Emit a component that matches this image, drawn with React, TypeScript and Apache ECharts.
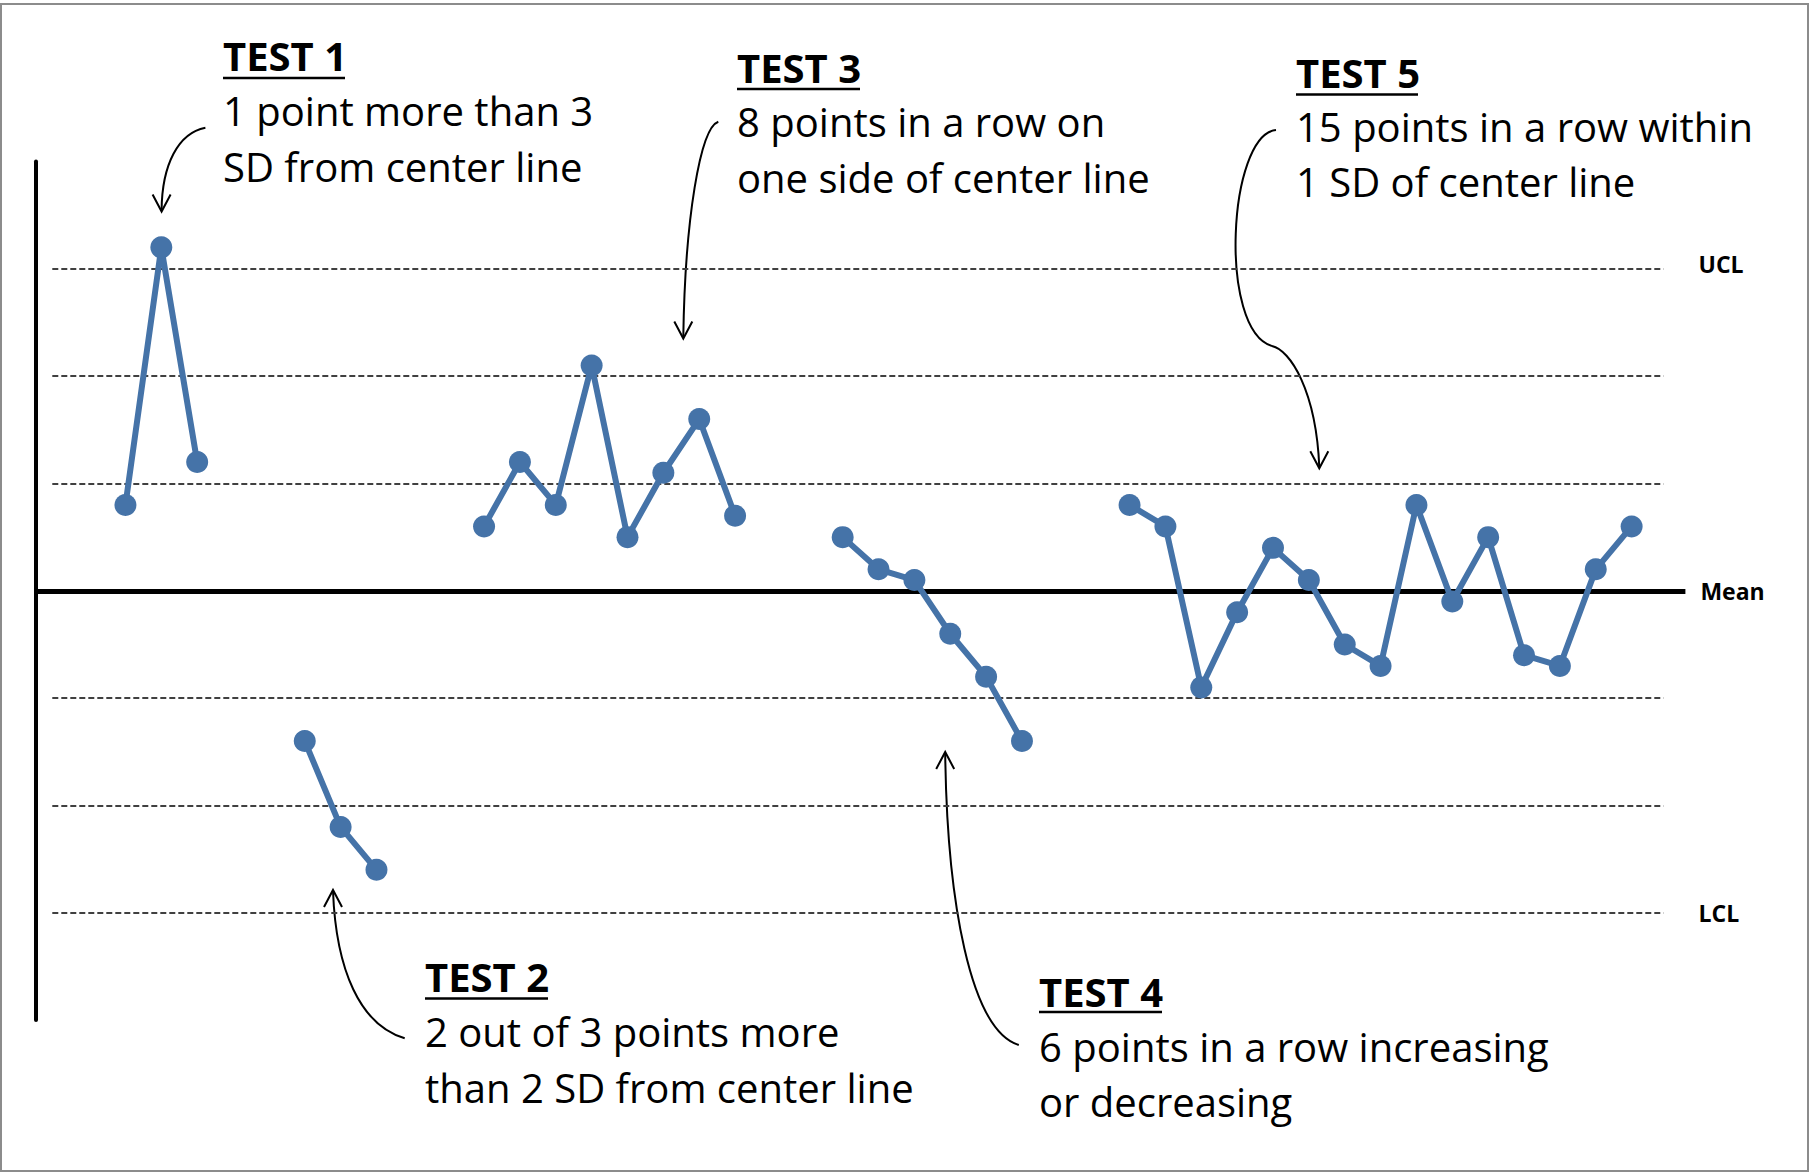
import React, { useEffect, useRef } from "react";
import * as echarts from "echarts";

// ---- data (values in SD units from the mean) ----
const values: (number | null)[] = [
  0.8, 3.2, 1.2, null, null,
  -1.4, -2.2, -2.6, null, null,
  0.6, 1.2, 0.8, 2.1, 0.5, 1.1, 1.6, 0.7, null, null,
  0.5, 0.2, 0.1, -0.4, -0.8, -1.4, null, null,
  0.8, 0.6, -0.9, -0.2, 0.4, 0.1, -0.5, -0.7, 0.8, -0.1, 0.5, -0.6, -0.7, 0.2, 0.6,
];
const sdLevels = [3, 2, 1, -1, -2, -3];
const sdLabels = ["UCL", "", "", "", "", "LCL"];
const meanLabel = "Mean";

const testTitles = ["TEST 1", "TEST 2", "TEST 3", "TEST 4", "TEST 5"];
const testLines1 = [
  "1 point more than 3",
  "2 out of 3 points more",
  "8 points in a row on",
  "6 points in a row increasing",
  "15 points in a row within",
];
const testLines2 = [
  "SD from center line",
  "than 2 SD from center line",
  "one side of center line",
  "or decreasing",
  "1 SD of center line",
];

// ---- layout ----
const FONT = '"Open Sans", "Liberation Sans", sans-serif';
const FS = 40;
const MID = 0.388 * FS;
const blockLayout = [
  { x: 223, base: [71, 126, 181.7], ulY: 78, ulW: 122 },
  { x: 425, base: [991.7, 1046.7, 1103.3], ulY: 998.5, ulW: 123 },
  { x: 737, base: [83.3, 136.7, 193.3], ulY: 89, ulW: 123 },
  { x: 1039, base: [1006.7, 1061.7, 1116.7], ulY: 1012, ulW: 123 },
  { x: 1296, base: [88.3, 141.7, 196.7], ulY: 94.5, ulW: 122 },
];
const curves = [
  [205.4, 127.7, 178, 133, 162, 165, 161.6, 210],
  [404.7, 1038.3, 360, 1025, 336, 970, 333, 891],
  [718.3, 121.7, 700, 128, 685, 220, 683.3, 337],
  [1018.8, 1045, 970, 1030, 947, 900, 945.2, 753],
  [1276, 130, 1228, 135, 1218, 330, 1272, 346],
  [1272, 346, 1290, 350, 1316, 390, 1319.3, 467],
];
const heads = [
  [161.6, 211.5],
  [333, 890],
  [683.3, 338.5],
  [945.2, 752],
  [1319.3, 468.3],
];
const headDir = [1, -1, 1, -1, 1];

function buildGraphics() {
  const els: any[] = [];
  els.push({
    type: "rect",
    shape: { x: 1, y: 4, width: 1807, height: 1167 },
    style: { fill: "none", stroke: "#8c8c8c", lineWidth: 2 },
    silent: true,
  });
  testTitles.forEach((t, i) => {
    const b = blockLayout[i];
    const texts = [t, testLines1[i], testLines2[i]];
    texts.forEach((s, j) => {
      els.push({
        type: "text",
        x: b.x,
        y: b.base[j] - MID,
        silent: true,
        style: {
          text: s,
          fontSize: FS,
          fontFamily: FONT,
          fontWeight: j === 0 ? "bold" : "normal",
          fill: "#000",
          align: "left",
          verticalAlign: "middle",
        },
      });
    });
    els.push({
      type: "line",
      silent: true,
      shape: { x1: b.x, y1: b.ulY, x2: b.x + b.ulW, y2: b.ulY },
      style: { stroke: "#000", lineWidth: 2.5 },
    });
  });
  curves.forEach((c) => {
    els.push({
      type: "bezierCurve",
      silent: true,
      shape: { x1: c[0], y1: c[1], cpx1: c[2], cpy1: c[3], cpx2: c[4], cpy2: c[5], x2: c[6], y2: c[7] },
      style: { stroke: "#000", lineWidth: 2, fill: "none" },
    });
  });
  heads.forEach((h, i) => {
    const d = headDir[i];
    els.push({
      type: "polyline",
      silent: true,
      shape: {
        points: [
          [h[0] - 9, h[1] - d * 17],
          [h[0], h[1]],
          [h[0] + 9, h[1] - d * 17],
        ],
      },
      style: { stroke: "#000", lineWidth: 2, fill: "none" },
    });
  });
  return els;
}

export default function App() {
  const ref = useRef<HTMLDivElement>(null);
  useEffect(() => {
    const chart = echarts.init(ref.current!, null, { renderer: "svg" });
    const xMin = -2.5;
    const xMax = 43.5;
    const dashStart = -2.04;
    const dashEnd = 42.89;
    const option: any = {
      animation: false,
      backgroundColor: "#ffffff",
      grid: { left: 35.8, top: 161.5, width: 1649.6, height: 858.6 },
      xAxis: { type: "value", min: xMin, max: xMax, show: false },
      yAxis: {
        type: "value",
        min: -4,
        max: 4,
        axisLine: { show: true, onZero: false, lineStyle: { color: "#000", width: 4 } },
        axisTick: { show: false },
        axisLabel: { show: false },
        splitLine: { show: false },
      },
      series: [
        {
          type: "line",
          silent: true,
          z: 1,
          data: [],
          markLine: {
            silent: true,
            symbol: ["none", "none"],
            lineStyle: { type: [6, 3], color: "#404040", width: 2 },
            label: { show: false },
            data: sdLevels.map((v, i) => [
              {
                coord: [dashStart, v],
                label: {
                  show: sdLabels[i] !== "",
                  formatter: sdLabels[i],
                  position: "end",
                  distance: 35,
                  color: "#000",
                  fontFamily: FONT,
                  fontWeight: "bold",
                  fontSize: 23,
                  verticalAlign: v > 0 ? "bottom" : "middle",
                  lineHeight: v > 0 ? 10 : 23,
                },
              },
              { coord: [dashEnd, v] },
            ]),
          },
        },
        {
          type: "line",
          silent: true,
          z: 2,
          data: [],
          markLine: {
            silent: true,
            symbol: ["none", "none"],
            lineStyle: { type: "solid", color: "#000", width: 5 },
            data: [
              [
                {
                  coord: [xMin, 0],
                  label: {
                    show: true,
                    formatter: meanLabel,
                    position: "end",
                    distance: 15,
                    color: "#000",
                    fontFamily: FONT,
                    fontWeight: "bold",
                    fontSize: 23,
                  },
                },
                { coord: [xMax, 0] },
              ],
            ],
          },
        },
        {
          type: "line",
          z: 5,
          silent: true,
          connectNulls: false,
          symbol: "circle",
          symbolSize: 22,
          showAllSymbol: true,
          lineStyle: { color: "#4573A8", width: 6 },
          itemStyle: { color: "#4573A8" },
          data: values.map((v, i) => [i, v === null ? "-" : v]),
        },
      ],
      graphic: { elements: buildGraphics() },
    };
    chart.setOption(option);
    return () => chart.dispose();
  }, []);
  return (
    <div
      ref={ref}
      style={{ position: "fixed", left: 0, top: 0, width: 1809, height: 1172, background: "#fff" }}
    />
  );
}
